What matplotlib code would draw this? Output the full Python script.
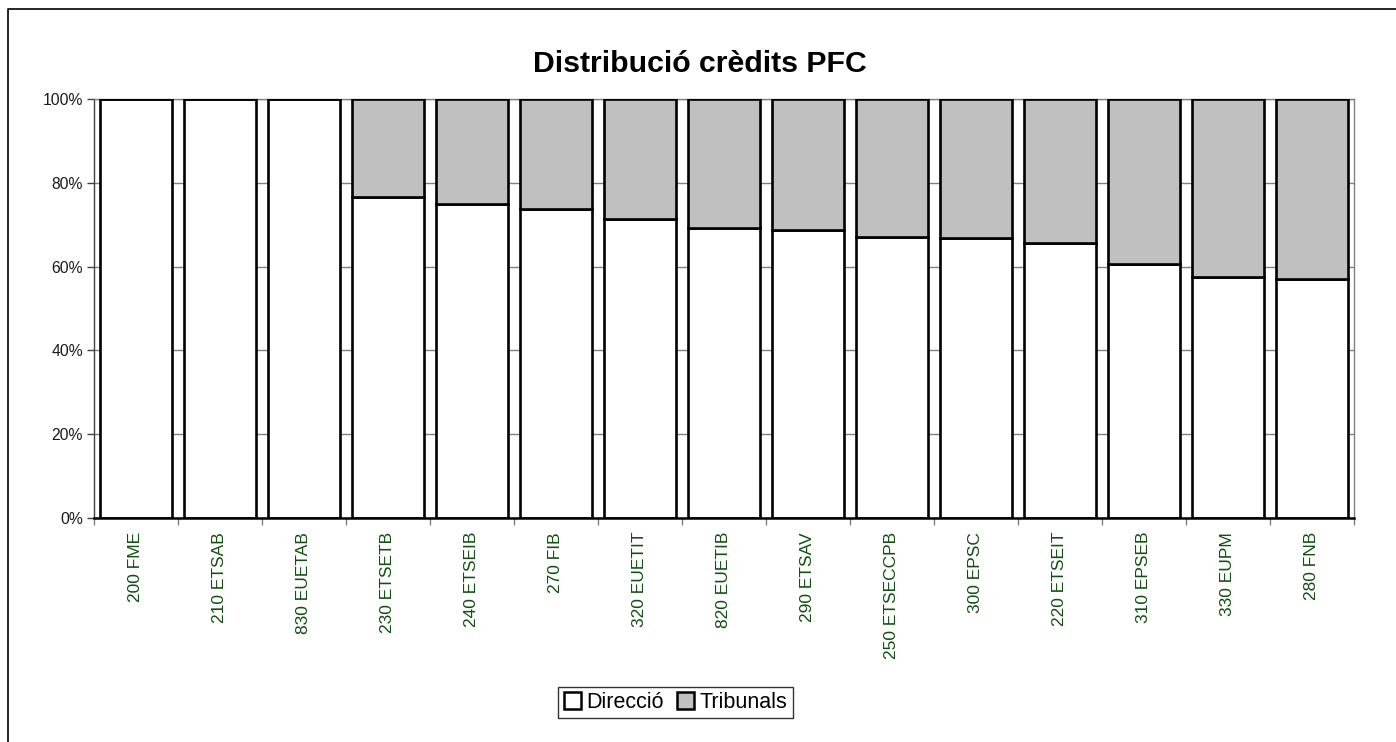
import matplotlib
matplotlib.use("Agg")
import matplotlib.pyplot as plt
from matplotlib.lines import Line2D
from matplotlib.patches import Patch
import numpy as np

plt.rcParams['font.family'] = ['Liberation Sans', 'DejaVu Sans']

categories = ["200 FME", "210 ETSAB", "830 EUETAB", "230 ETSETB", "240 ETSEIB",
              "270 FIB", "320 EUETIT", "820 EUETIB", "290 ETSAV", "250 ETSECCPB",
              "300 EPSC", "220 ETSEIT", "310 EPSEB", "330 EUPM", "280 FNB"]
direccio = [100, 100, 100, 76.5, 74.9, 73.8, 71.4, 69.2, 68.7, 67.1, 66.9, 65.7, 60.7, 57.4, 57.1]
tribunals = [100 - d for d in direccio]
yticks = [0, 20, 40, 60, 80, 100]
ytick_labels = ["0%", "20%", "40%", "60%", "80%", "100%"]

W, H = 1396, 742
fig = plt.figure(figsize=(W / 100, H / 100), dpi=100)
ax = fig.add_axes([94 / W, 1 - 518 / H, (1354 - 94) / W, (518 - 99) / H])

x = np.arange(len(categories))
bw = 0.857
ax.bar(x, direccio, width=bw, color='white', edgecolor='black', linewidth=1.9,
       zorder=3, label='Direcció')
ax.bar(x, tribunals, bottom=direccio, width=bw, color='#C0C0C0', edgecolor='black',
       linewidth=1.9, zorder=3, label='Tribunals')

ax.set_xlim(-0.5, len(categories) - 0.5)
ax.set_ylim(0, 100)

ax.set_yticks(yticks)
ax.set_yticklabels(ytick_labels, fontsize=11.3, color='#1a1a1a')
ax.tick_params(axis='y', direction='out', length=5, width=1, color='#404040', pad=3)
ax.yaxis.grid(True, color='#808080', linewidth=1, zorder=0)

ax.set_xticks(x)
ax.set_xticklabels(categories, rotation=90, fontsize=12.5, color='#0f4f0f',
                   ha='center', va='top')
ax.tick_params(axis='x', which='major', length=0, pad=10)
ax.set_xticks(np.arange(-0.5, len(categories), 1.0), minor=True)
ax.tick_params(axis='x', which='minor', direction='out', length=5, width=1, color='#808080')

for s in ['top', 'right']:
    ax.spines[s].set_color('#808080')
    ax.spines[s].set_linewidth(1)
ax.spines['left'].set_color('#404040')
ax.spines['left'].set_linewidth(1)
ax.spines['bottom'].set_color('black')
ax.spines['bottom'].set_linewidth(1.8)
ax.spines['bottom'].set_zorder(4)

fig.text(700 / W, 1 - 64 / H, "Distribució crèdits PFC", fontsize=21.8,
         fontweight='bold', ha='center', va='center')

handles = [Patch(facecolor='white', edgecolor='black', linewidth=1.8, label='Direcció'),
           Patch(facecolor='#C0C0C0', edgecolor='black', linewidth=1.8, label='Tribunals')]
leg = fig.legend(handles=handles, loc='center', bbox_to_anchor=(675.5 / W, 1 - 702.5 / H),
                 ncol=2, fontsize=15.5, frameon=True, fancybox=False, edgecolor='black',
                 handlelength=0.8, handleheight=0.8, handletextpad=0.25, columnspacing=0.6,
                 borderpad=0.25, borderaxespad=0)
leg.get_frame().set_linewidth(1)

# outer chart border (left and top)
fig.add_artist(Line2D([8 / W, 8 / W, 1.0], [0.0, 1 - 9 / H, 1 - 9 / H],
                      color='black', linewidth=1.2, transform=fig.transFigure))

fig.savefig("out.png", dpi=100)
